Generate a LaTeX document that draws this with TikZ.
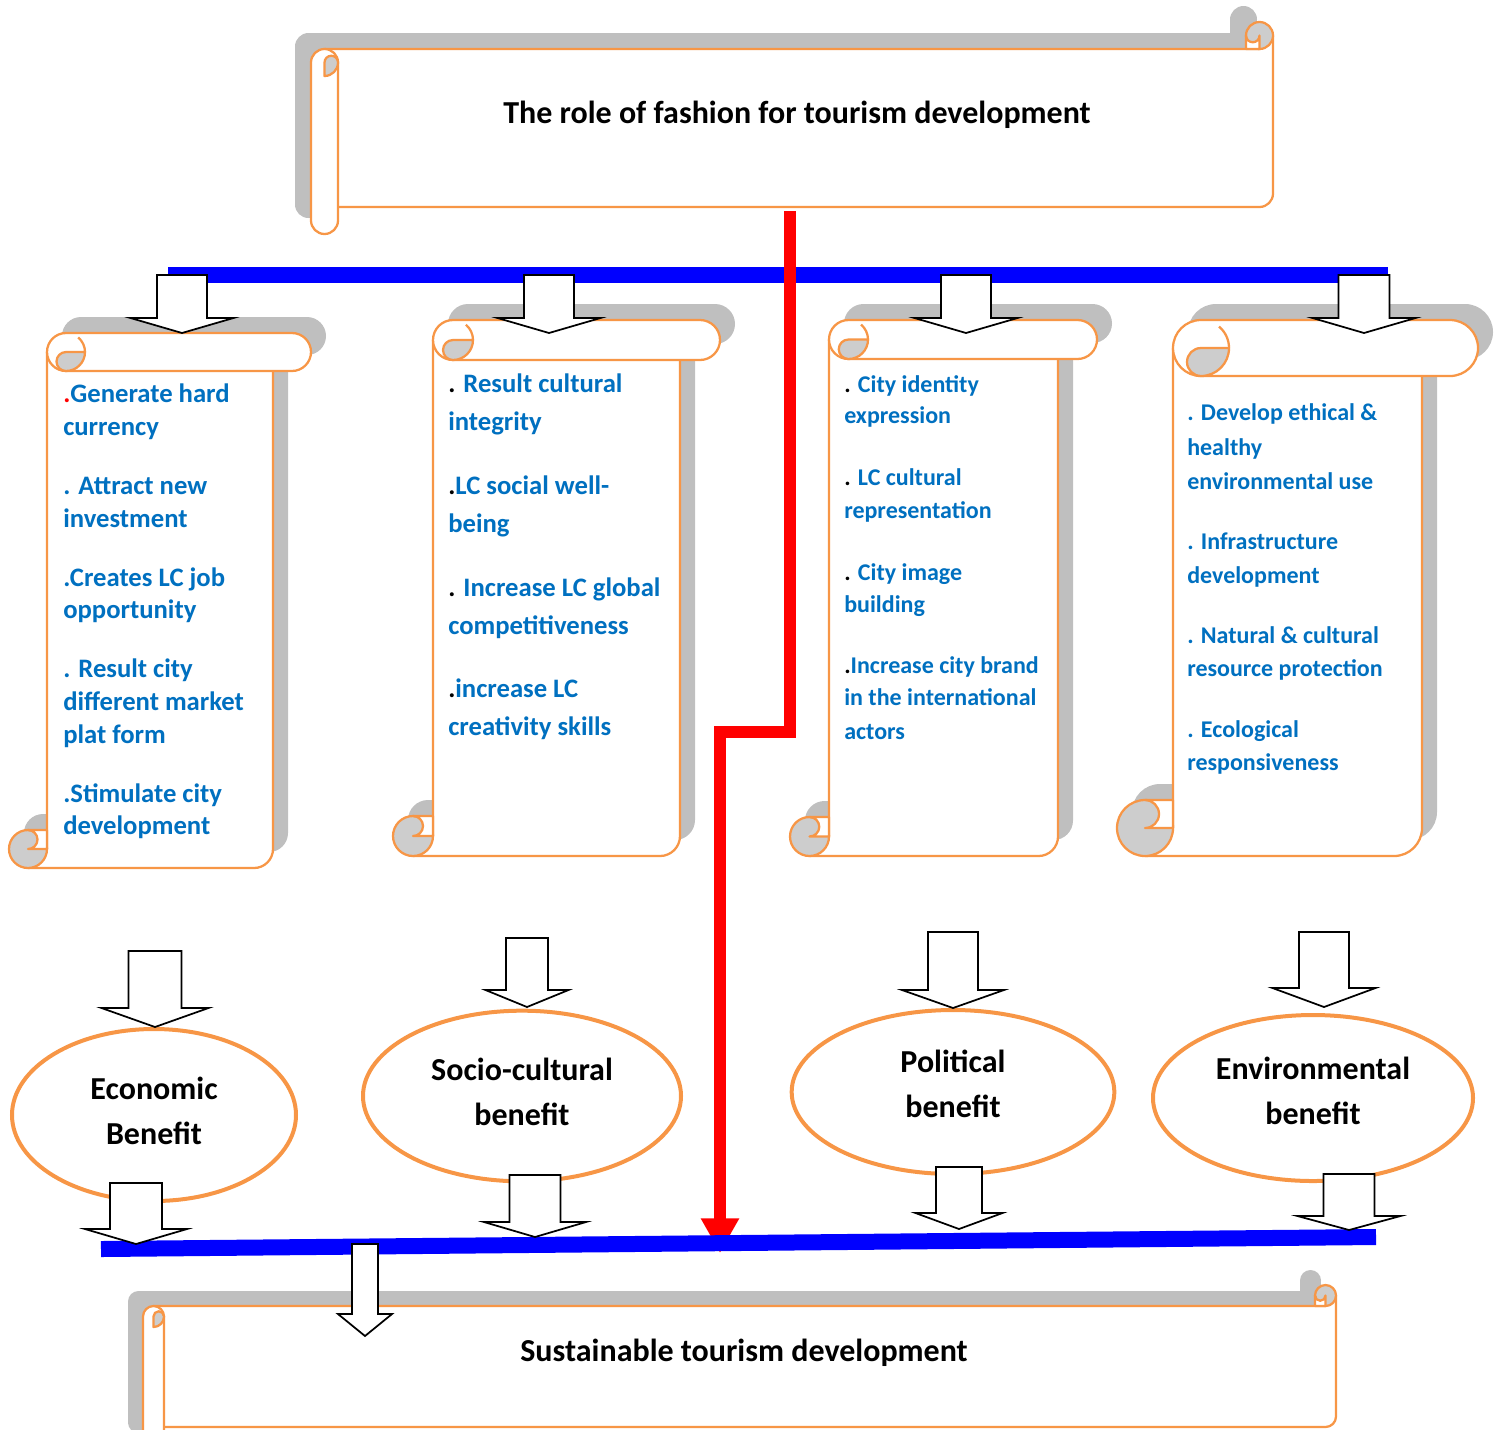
\documentclass[tikz,border=0pt]{standalone}
\usepackage{fontspec}
\setmainfont{Carlito}
\usetikzlibrary{arrows.meta,shapes.geometric}

\definecolor{scrollorange}{HTML}{F79646}
\definecolor{shadowgray}{HTML}{BFBFBF}
\definecolor{curlgray}{HTML}{CDCDCD}
\definecolor{itemblue}{HTML}{0070C0}

\tikzset{
  scroll/.style={draw=scrollorange,line width=1.7pt,fill=white,line join=round},
  curl/.style={draw=scrollorange,line width=1.7pt,fill=curlgray,line join=round},
  pics/blockdown/.style n args={4}{code={
    \draw[black,line width=1.3pt,fill=white] (-#3,0) -- (#3,0) -- (#3,#1) -- (#4,#1) -- (0,#2) -- (-#4,#1) -- (-#3,#1) -- cycle;
  }}
}

% vertical scroll: left, right, top, bottom, roll radius
\newcommand{\vertscroll}[5]{
  \fill[shadowgray,shift={(15,-16)}] (#1+#5,#3) -- (#2+#5,#3) arc[start angle=270,end angle=450,radius=#5] -- (#2,#3+2*#5) -- (#2,#4-#5) arc[start angle=0,end angle=90,radius=#5] -- (#1-#5,#4) arc[start angle=90,end angle=270,radius=#5] -- (#1,#4-2*#5) -- (#1,#3+#5) arc[start angle=180,end angle=270,radius=#5] -- cycle;
  \filldraw[scroll] (#1,#3+#5) -- (#1,#4-#5) -- (#1-#5,#4-#5) -- (#1-#5,#4) -- (#2-#5,#4) arc[start angle=90,end angle=0,radius=#5] -- (#2,#3+#5) -- cycle;
  \filldraw[curl] (#1-#5,#4-#5) circle[radius=#5];
  \filldraw[scroll] (#1-#5,#4-2*#5) -- (#1,#4-2*#5) -- (#1,#4-#5) -- (#1-#5,#4-#5) arc[start angle=90,end angle=-90,radius=#5/2] -- cycle;
  \filldraw[scroll] (#1+#5,#3) -- (#2+#5,#3) arc[start angle=270,end angle=450,radius=#5] -- (#1+#5,#3+2*#5) arc[start angle=90,end angle=270,radius=#5] -- cycle;
  \filldraw[curl] (#1+2*#5,#3+#5) -- (#1+#5,#3+#5) arc[start angle=270,end angle=90,radius=#5/2] arc[start angle=90,end angle=0,radius=#5] -- cycle;
  \draw[scroll,fill=none] (#1+2*#5,#3+#5) arc[start angle=0,end angle=-50,radius=#5];
}

% horizontal scroll: left, right, top, bottom, roll radius, shadow offset
\newcommand{\horscroll}[6]{
  \begin{scope}[shift={(-#6,-#6)}]
    \fill[shadowgray] (#1,#3+#5) arc[start angle=180,end angle=360,radius=#5] -- (#1+2*#5,#4+#5) arc[start angle=0,end angle=180,radius=#5] -- cycle;
    \fill[shadowgray] (#1+#5,#3) rectangle (#2,#4);
    \fill[shadowgray] (#2-#5,#3-#5) circle[radius=#5];
    \fill[shadowgray] (#2-2*#5,#3-#5) rectangle (#2,#3);
  \end{scope}
  \filldraw[scroll] (#1+#5,#3) -- (#2-#5,#3) -- (#2-#5,#3-#5) -- (#2,#3-#5) -- (#2,#4-#5) arc[start angle=0,end angle=90,radius=#5] -- (#1+#5,#4) -- cycle;
  \filldraw[curl] (#2-#5,#3-#5) circle[radius=#5];
  \filldraw[scroll] (#2-2*#5,#3) -- (#2-2*#5,#3-#5) arc[start angle=180,end angle=0,radius=#5/2] -- (#2-#5,#3) -- cycle;
  \filldraw[scroll] (#1,#3+#5) arc[start angle=180,end angle=360,radius=#5] -- (#1+2*#5,#4+#5) arc[start angle=0,end angle=180,radius=#5] -- cycle;
  \filldraw[curl] (#1+#5,#3+2*#5) -- (#1+#5,#3+#5) arc[start angle=180,end angle=360,radius=#5/2] arc[start angle=0,end angle=90,radius=#5] -- cycle;
}

\begin{document}
\begin{tikzpicture}[x=0.75pt,y=-0.75pt,
  item/.style={text=itemblue,inner sep=0pt,anchor=base west,font=\bfseries\fontsize{20}{24}\selectfont},
  smallitem/.style={item,font=\bfseries\fontsize{18}{22}\selectfont},
  benefit/.style={ellipse,draw=scrollorange,line width=3pt,inner sep=0pt,align=center,font=\bfseries\fontsize{24}{33.75}\selectfont},
  headline/.style={inner sep=0pt,anchor=base,font=\bfseries\fontsize{24}{29}\selectfont},
  bluebar/.style={draw=blue,line width=12pt},
  redline/.style={draw=red,line width=9pt,-{Triangle[length=26pt,width=27pt]}}]
\useasboundingbox (0,0) rectangle (1501,1429);

% top scroll
\horscroll{311}{1273}{49}{207}{13.5}{16}
\node[headline] (title) at (797,123) {The role of fashion for tourism development};

% distribution bar and red path
\coordinate (topbarW) at (168,275);
\coordinate (topbarE) at (1388,275);
\draw[bluebar] (topbarW) -- (topbarE);
\coordinate (redtop) at (790,211);
\coordinate (redmid) at (755,732);
\coordinate (redend) at (720,1253);
\draw[redline] (redtop) |- (redmid) -| (redend);

% the four scrolls
\vertscroll{47}{273}{333}{868}{19}
\vertscroll{433}{680}{320}{856}{20}
\vertscroll{829}{1058}{320}{856}{19.5}
\vertscroll{1173}{1422}{320}{856}{28}

\foreach \yy/\itemtext [count=\n] in {402/{\textcolor{red}{.}Generate hard},435/currency,494/{. Attract new},527/investment,586/{.Creates LC job},618/opportunity,677/{. Result city},710/{different market},743/{plat form},802/{.Stimulate city},834/development}
  \node[item] (eco\n) at (63,\yy) {\itemtext};

\foreach \yy/\itemtext [count=\n] in {392/{\textcolor{black}{.} Result cultural},430/integrity,494/{\textcolor{black}{.}LC social well-},532/being,596/{\textcolor{black}{.} Increase LC global},634/competitiveness,697/{\textcolor{black}{.}increase LC},735/{creativity skills}}
  \node[item] (soc\n) at (448,\yy) {\itemtext};

\foreach \yy/\itemtext [count=\n] in {392/{\textcolor{black}{.} City identity},423/expression,485/{\textcolor{black}{.} LC cultural},518/representation,580/{\textcolor{black}{.} City image},612/building,673/{\textcolor{black}{.}Increase city brand},705/{in the international},739/actors}
  \node[smallitem] (pol\n) at (844,\yy) {\itemtext};

\foreach \yy/\itemtext [count=\n] in {420/{. Develop ethical \&},455/healthy,489/{environmental use},549/{. Infrastructure},583/development,643/{. Natural \& cultural},676/{resource protection},737/{. Ecological},770/responsiveness}
  \node[smallitem] (env\n) at (1187,\yy) {\itemtext};

% benefits
\node[benefit,minimum width=213pt,minimum height=129pt,text depth=6pt] (ecob) at (154,1115) {Economic\\Benefit};
\node[benefit,minimum width=238.5pt,minimum height=128pt,text depth=6pt] (socb) at (522,1096) {Socio-cultural\\benefit};
\node[benefit,minimum width=242pt,minimum height=123pt,text depth=12pt] (polb) at (953,1092) {Political\\benefit};
\node[benefit,minimum width=240pt,minimum height=124.5pt,text depth=10.5pt] (envb) at (1313,1098) {Environmental\\benefit};

% collecting bar
\coordinate (lowbarW) at (101,1249);
\coordinate (lowbarE) at (1376,1237);
\draw[bluebar] (lowbarW) -- (lowbarE);

% bottom scroll
\horscroll{143}{1336}{1306}{1427}{10.5}{15}
\node[headline] (goal) at (744,1361) {Sustainable tourism development};

% block arrows
\pic at (182,275) {blockdown={43}{58}{25}{51.5}};
\pic at (549,275) {blockdown={43}{58}{25}{51.5}};
\pic at (966,275) {blockdown={43}{58}{25}{51.5}};
\pic at (1364,275) {blockdown={43}{58}{25.5}{51.5}};
\pic at (155,951) {blockdown={57}{76}{26.5}{53.5}};
\pic at (527,938) {blockdown={52}{69}{21}{41.5}};
\pic at (953,932) {blockdown={58}{76}{25}{51}};
\pic at (1324,932) {blockdown={56}{75}{25}{51.5}};
\pic at (136,1183) {blockdown={46}{61}{26}{51}};
\pic at (535,1175) {blockdown={47}{62}{25.5}{51}};
\pic at (959,1167) {blockdown={46}{62}{23}{43.5}};
\pic at (1349,1174) {blockdown={42}{56}{25.5}{51.5}};
\pic at (365,1244) {blockdown={70}{92}{13}{27}};
\end{tikzpicture}
\end{document}
